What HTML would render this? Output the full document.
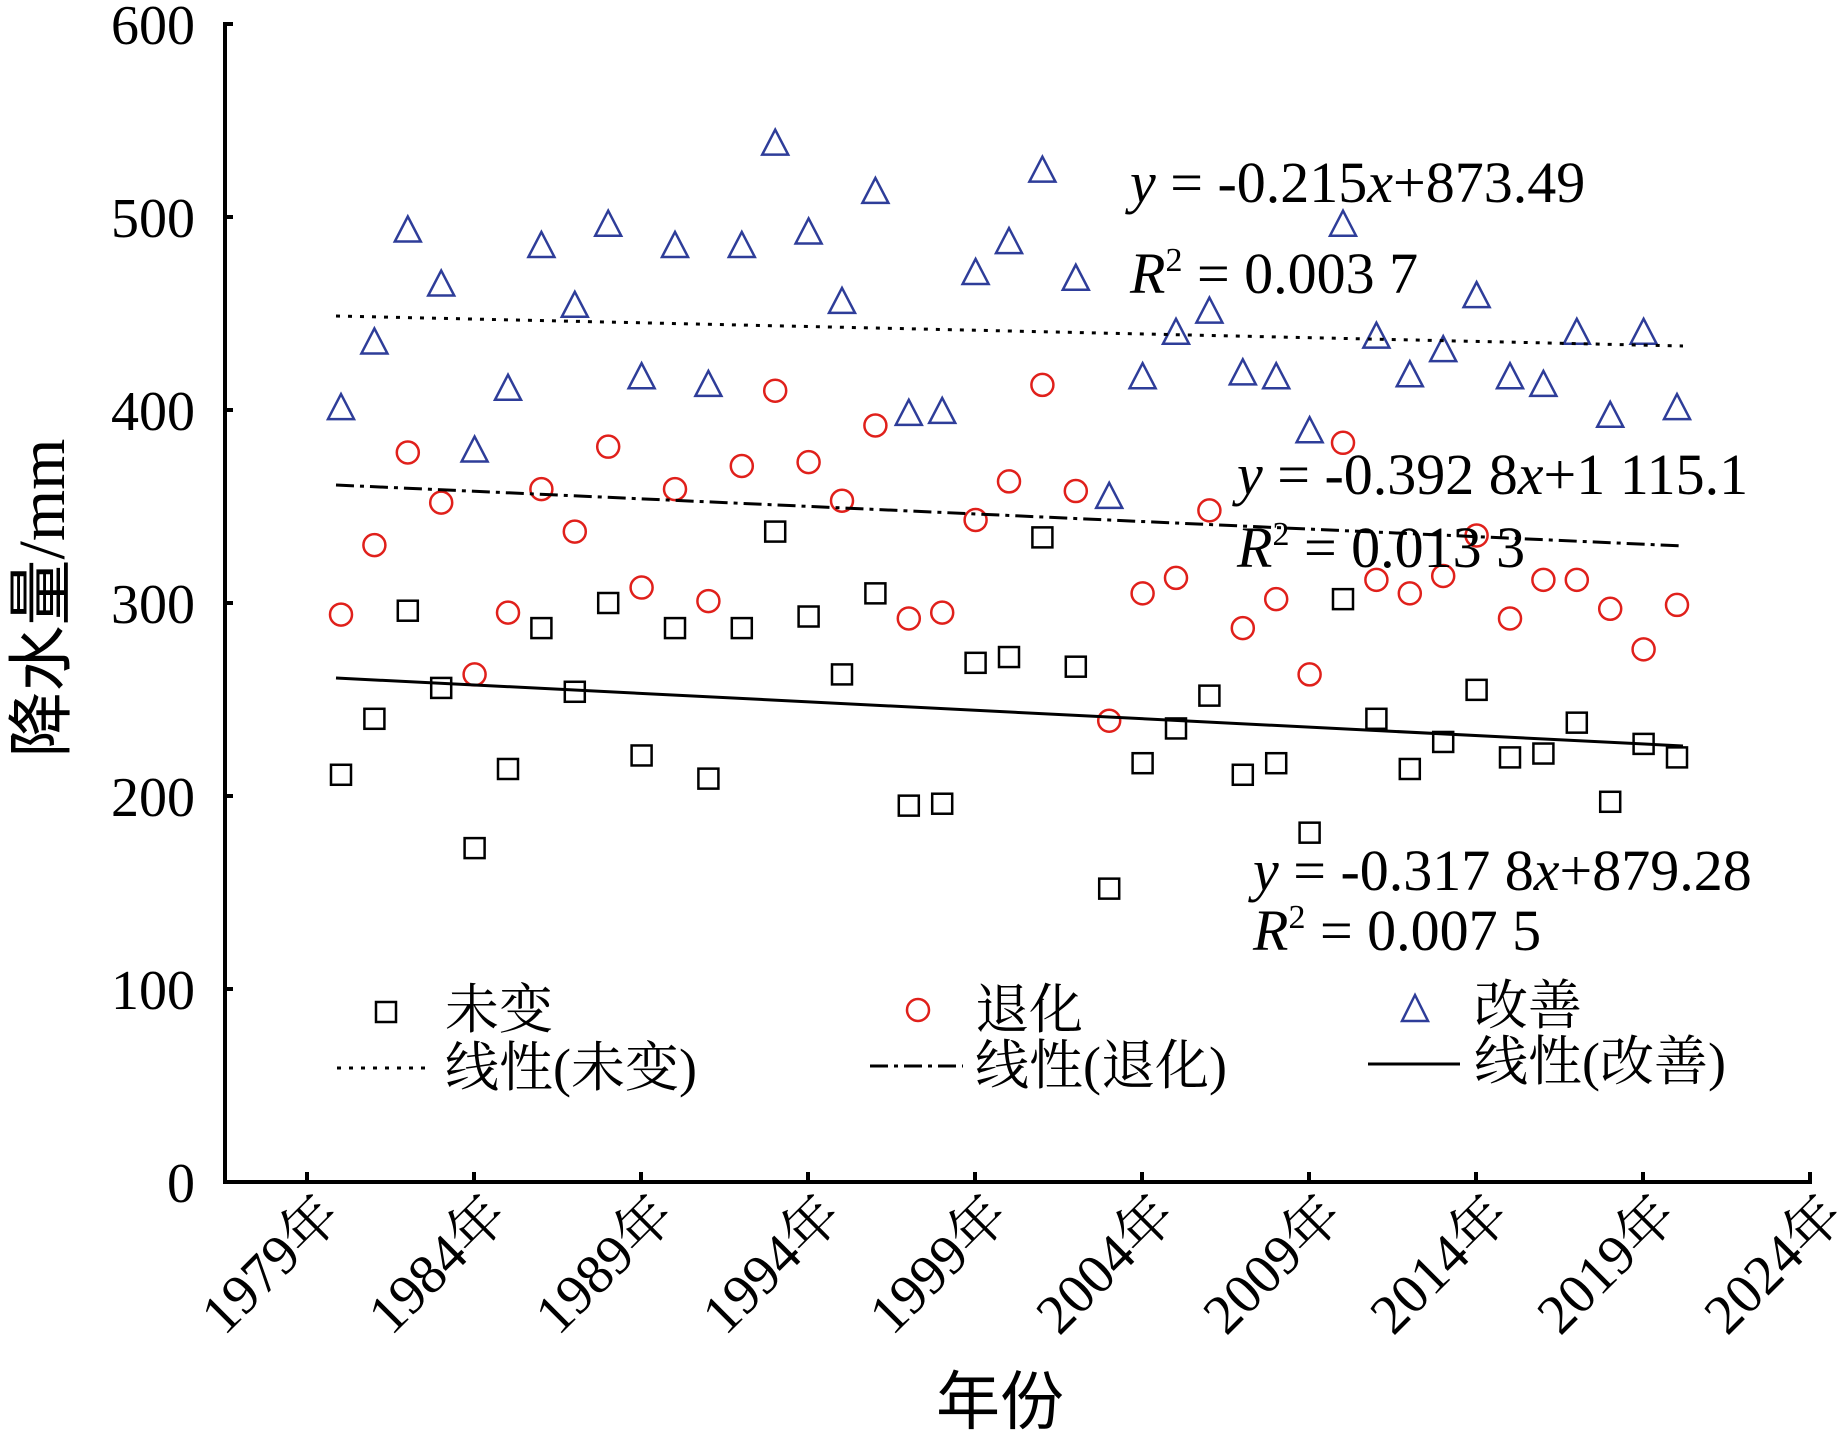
<!DOCTYPE html>
<html><head><meta charset="utf-8"><style>
html,body{margin:0;padding:0;background:#fff;}
svg{display:block;}
text{font-family:"Liberation Serif","Noto Serif CJK SC","Noto Sans CJK SC",serif;fill:#000;}
.cj{font-family:"Liberation Serif","Noto Sans CJK SC",sans-serif;}
</style></head><body>
<svg id="s" width="1842" height="1446" viewBox="0 0 1842 1446" xmlns="http://www.w3.org/2000/svg">
<g stroke="#000" stroke-width="4" fill="none">
<path d="M233,24 L225,24 L225,1182 L1810,1182 L1810,1172"/>
<path d="M225,217 H233 M225,410 H233 M225,603 H233 M225,796 H233 M225,989 H233"/>
<path d="M307,1182 V1172 M474,1182 V1172 M641,1182 V1172 M808,1182 V1172 M975,1182 V1172 M1142,1182 V1172 M1309,1182 V1172 M1476,1182 V1172 M1643,1182 V1172"/>
</g>
<g font-size="56" text-anchor="end">
<text x="195" y="44">600</text><text x="195" y="237">500</text><text x="195" y="430">400</text>
<text x="195" y="623">300</text><text x="195" y="816">200</text><text x="195" y="1009">100</text><text x="195" y="1202">0</text>
</g>
<g font-size="56" text-anchor="end" class="cj">
<text transform="translate(343,1218) rotate(-45)">1979年</text>
<text transform="translate(510,1218) rotate(-45)">1984年</text>
<text transform="translate(677,1218) rotate(-45)">1989年</text>
<text transform="translate(844,1218) rotate(-45)">1994年</text>
<text transform="translate(1011,1218) rotate(-45)">1999年</text>
<text transform="translate(1178,1218) rotate(-45)">2004年</text>
<text transform="translate(1345,1218) rotate(-45)">2009年</text>
<text transform="translate(1512,1218) rotate(-45)">2014年</text>
<text transform="translate(1679,1218) rotate(-45)">2019年</text>
<text transform="translate(1846,1218) rotate(-45)">2024年</text>
</g>
<text class="cj" font-size="66" text-anchor="middle" transform="translate(64,598) rotate(-90)">降水量/mm</text>
<text class="cj" font-size="64" text-anchor="middle" x="1000" y="1424">年份</text>
<g id="m"></g>
<g stroke="#000" stroke-width="3" fill="none">
<line x1="336" y1="316" x2="1683" y2="346" stroke-dasharray="4,8"/>
<line x1="336" y1="485" x2="1683" y2="546" stroke-dasharray="18,6,4,6"/>
<line x1="336" y1="678" x2="1683" y2="746"/>
</g>
<g font-size="58">
<text x="1130" y="202"><tspan font-style="italic">y</tspan> = -0.215<tspan font-style="italic">x</tspan>+873.49</text>
<text x="1130" y="293"><tspan font-style="italic">R</tspan><tspan font-size="34" dy="-22">2</tspan><tspan dy="22"> = 0.003 7</tspan></text>
<text x="1237" y="494"><tspan font-style="italic">y</tspan> = -0.392 8<tspan font-style="italic">x</tspan>+1 115.1</text>
<text x="1237" y="567"><tspan font-style="italic">R</tspan><tspan font-size="34" dy="-22">2</tspan><tspan dy="22"> = 0.013 3</tspan></text>
<text x="1253" y="890"><tspan font-style="italic">y</tspan> = -0.317 8<tspan font-style="italic">x</tspan>+879.28</text>
<text x="1253" y="950"><tspan font-style="italic">R</tspan><tspan font-size="34" dy="-22">2</tspan><tspan dy="22"> = 0.007 5</tspan></text>
</g>
<g>
<rect x="376" y="1002" width="20" height="20" fill="none" stroke="#000" stroke-width="2.5"/>
<circle cx="918" cy="1010" r="11" fill="none" stroke="#e0201b" stroke-width="2.5"/>
<path d="M1415,995 L1402,1021 L1428,1021 Z" fill="none" stroke="#2e3d99" stroke-width="2.5"/>
<line x1="337" y1="1068" x2="429" y2="1068" stroke="#000" stroke-width="3" stroke-dasharray="4,8"/>
<line x1="870" y1="1066" x2="963" y2="1066" stroke="#000" stroke-width="3" stroke-dasharray="18,6,4,6"/>
<line x1="1368" y1="1064" x2="1460" y2="1064" stroke="#000" stroke-width="3"/>
</g>
<g class="cj" font-size="54">
<text x="445" y="1028">未变</text><text x="975" y="1028">退化</text><text x="1474" y="1024">改善</text>
<text x="445" y="1086">线性(未变)</text><text x="975" y="1084">线性(退化)</text><text x="1474" y="1080">线性(改善)</text>
</g>
</svg>
<script>
var tri=[401,435,493,465,379,411,485,454,496,417,485,413,485,538,492,456,513,398,399,471,487,524,468,355,417,440,451,419,417,389,496,438,418,431,459,417,413,440,397,440,401];
var cir=[294,330,378,352,263,295,359,337,381,308,359,301,371,410,373,353,392,292,295,343,363,413,358,239,305,313,348,287,302,263,383,312,305,314,335,292,312,312,297,276,299];
var sq=[211,240,296,256,173,214,287,254,300,221,287,209,287,337,293,263,305,195,196,269,272,334,267,152,217,235,252,211,217,181,302,240,214,228,255,220,222,238,197,227,220];
var h='';
function X(i){return 341+i*33.4;}
function Y(v){return 1182-v*1.93;}
for(var i=0;i<41;i++){
 var x=X(i),y;
 y=Y(sq[i]);h+='<rect x="'+(x-10)+'" y="'+(y-10)+'" width="20" height="20" fill="none" stroke="#000" stroke-width="2.5"/>';
 y=Y(cir[i]);h+='<circle cx="'+x+'" cy="'+y+'" r="11" fill="none" stroke="#e0201b" stroke-width="2.5"/>';
 y=Y(tri[i]);h+='<path d="M'+x+','+(y-14)+' L'+(x-13)+','+(y+11)+' L'+(x+13)+','+(y+11)+' Z" fill="none" stroke="#2e3d99" stroke-width="2.5"/>';
}
document.getElementById('m').innerHTML=h;
</script>
</body></html>
